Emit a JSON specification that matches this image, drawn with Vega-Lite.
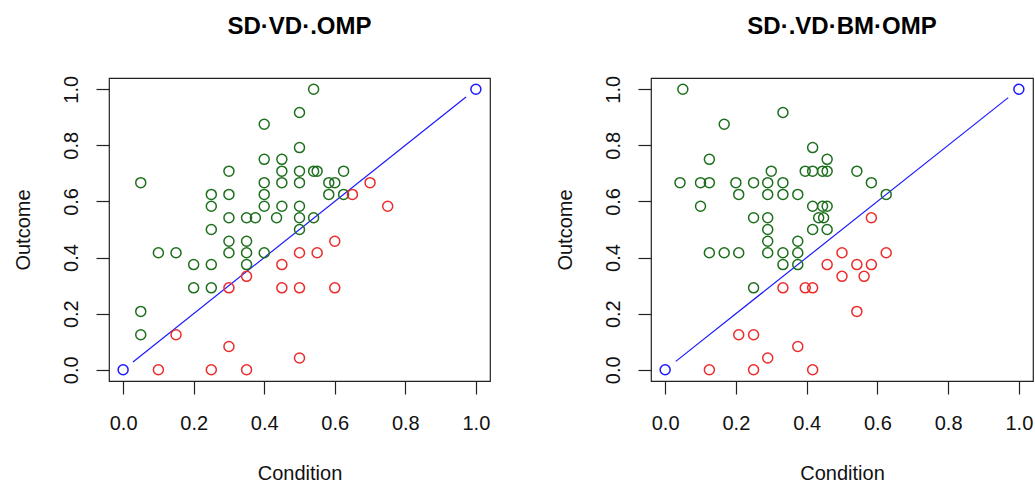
{
  "$schema": "https://vega.github.io/schema/vega-lite/v6.json",
  "padding": {"left": 12, "top": 14, "right": 0, "bottom": 0},
  "background": "white",
  "spacing": 161,
  "bounds": "flush",
  "config": {
    "font": "Liberation Sans",
    "view": {"stroke": "#222", "strokeWidth": 1.2},
    "axis": {
      "grid": false,
      "domain": false,
      "tickSize": 13,
      "tickColor": "#222",
      "tickWidth": 1.2,
      "labelFont": "Liberation Sans",
      "labelFontSize": 20,
      "labelColor": "#111",
      "titleFont": "Liberation Sans",
      "titleFontSize": 20,
      "titleFontWeight": "normal",
      "titleColor": "#111",
      "format": ".1f"
    },
    "axisX": {"labelPadding": 19, "titlePadding": 30, "labelFlush": false, "labelOverlap": false},
    "axisY": {"labelPadding": 15, "labelAngle": 270, "labelAlign": "center", "labelBaseline": "bottom", "titlePadding": 28, "labelOverlap": false, "labelFlush": false},
    "title": {"fontSize": 24, "fontWeight": "bold", "font": "Liberation Sans", "color": "#000", "offset": 36, "anchor": "middle"}
  },
  "datasets": {
    "lines": [
      {"p": "L", "x": 0.028, "y": 0.028},
      {"p": "L", "x": 0.972, "y": 0.972},
      {"p": "R", "x": 0.03, "y": 0.03},
      {"p": "R", "x": 0.97, "y": 0.97}
    ],
    "pts": [
      {"p": "L", "x": 0, "y": 0, "g": "blue"},
      {"p": "L", "x": 1, "y": 1, "g": "blue"},
      {"p": "L", "x": 0.05, "y": 0.667, "g": "green"},
      {"p": "L", "x": 0.05, "y": 0.208, "g": "green"},
      {"p": "L", "x": 0.05, "y": 0.125, "g": "green"},
      {"p": "L", "x": 0.1, "y": 0.417, "g": "green"},
      {"p": "L", "x": 0.15, "y": 0.417, "g": "green"},
      {"p": "L", "x": 0.2, "y": 0.375, "g": "green"},
      {"p": "L", "x": 0.2, "y": 0.292, "g": "green"},
      {"p": "L", "x": 0.25, "y": 0.625, "g": "green"},
      {"p": "L", "x": 0.25, "y": 0.583, "g": "green"},
      {"p": "L", "x": 0.25, "y": 0.5, "g": "green"},
      {"p": "L", "x": 0.25, "y": 0.375, "g": "green"},
      {"p": "L", "x": 0.25, "y": 0.292, "g": "green"},
      {"p": "L", "x": 0.3, "y": 0.708, "g": "green"},
      {"p": "L", "x": 0.3, "y": 0.625, "g": "green"},
      {"p": "L", "x": 0.3, "y": 0.542, "g": "green"},
      {"p": "L", "x": 0.3, "y": 0.458, "g": "green"},
      {"p": "L", "x": 0.3, "y": 0.417, "g": "green"},
      {"p": "L", "x": 0.35, "y": 0.542, "g": "green"},
      {"p": "L", "x": 0.35, "y": 0.458, "g": "green"},
      {"p": "L", "x": 0.35, "y": 0.417, "g": "green"},
      {"p": "L", "x": 0.35, "y": 0.375, "g": "green"},
      {"p": "L", "x": 0.375, "y": 0.542, "g": "green"},
      {"p": "L", "x": 0.4, "y": 0.875, "g": "green"},
      {"p": "L", "x": 0.4, "y": 0.75, "g": "green"},
      {"p": "L", "x": 0.4, "y": 0.667, "g": "green"},
      {"p": "L", "x": 0.4, "y": 0.625, "g": "green"},
      {"p": "L", "x": 0.4, "y": 0.583, "g": "green"},
      {"p": "L", "x": 0.4, "y": 0.417, "g": "green"},
      {"p": "L", "x": 0.435, "y": 0.542, "g": "green"},
      {"p": "L", "x": 0.45, "y": 0.75, "g": "green"},
      {"p": "L", "x": 0.45, "y": 0.708, "g": "green"},
      {"p": "L", "x": 0.45, "y": 0.667, "g": "green"},
      {"p": "L", "x": 0.45, "y": 0.583, "g": "green"},
      {"p": "L", "x": 0.5, "y": 0.917, "g": "green"},
      {"p": "L", "x": 0.5, "y": 0.792, "g": "green"},
      {"p": "L", "x": 0.5, "y": 0.708, "g": "green"},
      {"p": "L", "x": 0.5, "y": 0.667, "g": "green"},
      {"p": "L", "x": 0.5, "y": 0.583, "g": "green"},
      {"p": "L", "x": 0.5, "y": 0.542, "g": "green"},
      {"p": "L", "x": 0.5, "y": 0.5, "g": "green"},
      {"p": "L", "x": 0.54, "y": 1.0, "g": "green"},
      {"p": "L", "x": 0.54, "y": 0.708, "g": "green"},
      {"p": "L", "x": 0.55, "y": 0.708, "g": "green"},
      {"p": "L", "x": 0.54, "y": 0.542, "g": "green"},
      {"p": "L", "x": 0.583, "y": 0.667, "g": "green"},
      {"p": "L", "x": 0.6, "y": 0.667, "g": "green"},
      {"p": "L", "x": 0.583, "y": 0.625, "g": "green"},
      {"p": "L", "x": 0.625, "y": 0.625, "g": "green"},
      {"p": "L", "x": 0.625, "y": 0.708, "g": "green"},
      {"p": "L", "x": 0.1, "y": 0, "g": "red"},
      {"p": "L", "x": 0.15, "y": 0.125, "g": "red"},
      {"p": "L", "x": 0.25, "y": 0, "g": "red"},
      {"p": "L", "x": 0.3, "y": 0.292, "g": "red"},
      {"p": "L", "x": 0.3, "y": 0.083, "g": "red"},
      {"p": "L", "x": 0.35, "y": 0.333, "g": "red"},
      {"p": "L", "x": 0.35, "y": 0, "g": "red"},
      {"p": "L", "x": 0.45, "y": 0.375, "g": "red"},
      {"p": "L", "x": 0.45, "y": 0.292, "g": "red"},
      {"p": "L", "x": 0.5, "y": 0.417, "g": "red"},
      {"p": "L", "x": 0.5, "y": 0.292, "g": "red"},
      {"p": "L", "x": 0.5, "y": 0.042, "g": "red"},
      {"p": "L", "x": 0.55, "y": 0.417, "g": "red"},
      {"p": "L", "x": 0.6, "y": 0.458, "g": "red"},
      {"p": "L", "x": 0.6, "y": 0.292, "g": "red"},
      {"p": "L", "x": 0.65, "y": 0.625, "g": "red"},
      {"p": "L", "x": 0.7, "y": 0.667, "g": "red"},
      {"p": "L", "x": 0.75, "y": 0.583, "g": "red"},
      {"p": "R", "x": 0, "y": 0, "g": "blue"},
      {"p": "R", "x": 1, "y": 1, "g": "blue"},
      {"p": "R", "x": 0.05, "y": 1.0, "g": "green"},
      {"p": "R", "x": 0.042, "y": 0.667, "g": "green"},
      {"p": "R", "x": 0.1, "y": 0.667, "g": "green"},
      {"p": "R", "x": 0.125, "y": 0.667, "g": "green"},
      {"p": "R", "x": 0.2, "y": 0.667, "g": "green"},
      {"p": "R", "x": 0.25, "y": 0.667, "g": "green"},
      {"p": "R", "x": 0.29, "y": 0.667, "g": "green"},
      {"p": "R", "x": 0.333, "y": 0.667, "g": "green"},
      {"p": "R", "x": 0.333, "y": 0.917, "g": "green"},
      {"p": "R", "x": 0.167, "y": 0.875, "g": "green"},
      {"p": "R", "x": 0.417, "y": 0.792, "g": "green"},
      {"p": "R", "x": 0.125, "y": 0.75, "g": "green"},
      {"p": "R", "x": 0.458, "y": 0.75, "g": "green"},
      {"p": "R", "x": 0.3, "y": 0.708, "g": "green"},
      {"p": "R", "x": 0.396, "y": 0.708, "g": "green"},
      {"p": "R", "x": 0.417, "y": 0.708, "g": "green"},
      {"p": "R", "x": 0.445, "y": 0.708, "g": "green"},
      {"p": "R", "x": 0.458, "y": 0.708, "g": "green"},
      {"p": "R", "x": 0.542, "y": 0.708, "g": "green"},
      {"p": "R", "x": 0.583, "y": 0.667, "g": "green"},
      {"p": "R", "x": 0.208, "y": 0.625, "g": "green"},
      {"p": "R", "x": 0.29, "y": 0.625, "g": "green"},
      {"p": "R", "x": 0.333, "y": 0.625, "g": "green"},
      {"p": "R", "x": 0.375, "y": 0.625, "g": "green"},
      {"p": "R", "x": 0.625, "y": 0.625, "g": "green"},
      {"p": "R", "x": 0.1, "y": 0.583, "g": "green"},
      {"p": "R", "x": 0.417, "y": 0.583, "g": "green"},
      {"p": "R", "x": 0.445, "y": 0.583, "g": "green"},
      {"p": "R", "x": 0.458, "y": 0.583, "g": "green"},
      {"p": "R", "x": 0.25, "y": 0.542, "g": "green"},
      {"p": "R", "x": 0.29, "y": 0.542, "g": "green"},
      {"p": "R", "x": 0.434, "y": 0.542, "g": "green"},
      {"p": "R", "x": 0.448, "y": 0.542, "g": "green"},
      {"p": "R", "x": 0.29, "y": 0.5, "g": "green"},
      {"p": "R", "x": 0.417, "y": 0.5, "g": "green"},
      {"p": "R", "x": 0.458, "y": 0.5, "g": "green"},
      {"p": "R", "x": 0.29, "y": 0.458, "g": "green"},
      {"p": "R", "x": 0.375, "y": 0.458, "g": "green"},
      {"p": "R", "x": 0.125, "y": 0.417, "g": "green"},
      {"p": "R", "x": 0.167, "y": 0.417, "g": "green"},
      {"p": "R", "x": 0.208, "y": 0.417, "g": "green"},
      {"p": "R", "x": 0.29, "y": 0.417, "g": "green"},
      {"p": "R", "x": 0.333, "y": 0.417, "g": "green"},
      {"p": "R", "x": 0.375, "y": 0.417, "g": "green"},
      {"p": "R", "x": 0.333, "y": 0.375, "g": "green"},
      {"p": "R", "x": 0.375, "y": 0.375, "g": "green"},
      {"p": "R", "x": 0.25, "y": 0.292, "g": "green"},
      {"p": "R", "x": 0.125, "y": 0, "g": "red"},
      {"p": "R", "x": 0.25, "y": 0, "g": "red"},
      {"p": "R", "x": 0.417, "y": 0, "g": "red"},
      {"p": "R", "x": 0.29, "y": 0.042, "g": "red"},
      {"p": "R", "x": 0.375, "y": 0.083, "g": "red"},
      {"p": "R", "x": 0.208, "y": 0.125, "g": "red"},
      {"p": "R", "x": 0.25, "y": 0.125, "g": "red"},
      {"p": "R", "x": 0.542, "y": 0.208, "g": "red"},
      {"p": "R", "x": 0.333, "y": 0.292, "g": "red"},
      {"p": "R", "x": 0.396, "y": 0.292, "g": "red"},
      {"p": "R", "x": 0.417, "y": 0.292, "g": "red"},
      {"p": "R", "x": 0.5, "y": 0.333, "g": "red"},
      {"p": "R", "x": 0.5625, "y": 0.333, "g": "red"},
      {"p": "R", "x": 0.458, "y": 0.375, "g": "red"},
      {"p": "R", "x": 0.542, "y": 0.375, "g": "red"},
      {"p": "R", "x": 0.583, "y": 0.375, "g": "red"},
      {"p": "R", "x": 0.5, "y": 0.417, "g": "red"},
      {"p": "R", "x": 0.625, "y": 0.417, "g": "red"},
      {"p": "R", "x": 0.583, "y": 0.542, "g": "red"}
    ]
  },
  "hconcat": [
    {
      "width": 381,
      "height": 303,
      "title": "SD·VD·.OMP",
      "layer": [
        {
          "data": {"name": "lines"},
          "transform": [{"filter": "datum.p === 'L'"}],
          "mark": {"type": "line", "color": "#1a1aff", "strokeWidth": 1.2},
          "encoding": {
            "x": {"field": "x", "type": "quantitative", "title": "Condition", "scale": {"domain": [-0.04, 1.04], "nice": false, "zero": false}, "axis": {"values": [0, 0.2, 0.4, 0.6, 0.8, 1.0]}},
            "y": {"field": "y", "type": "quantitative", "title": "Outcome", "scale": {"domain": [-0.04, 1.04], "nice": false, "zero": false}, "axis": {"values": [0, 0.2, 0.4, 0.6, 0.8, 1.0]}}
          }
        },
        {
          "data": {"name": "pts"},
          "transform": [{"filter": "datum.p === 'L'"}],
          "mark": {"type": "point", "shape": "circle", "filled": false, "size": 100, "strokeWidth": 1.5, "opacity": 1},
          "encoding": {
            "x": {"field": "x", "type": "quantitative", "title": "Condition", "scale": {"domain": [-0.04, 1.04], "nice": false, "zero": false}, "axis": {"values": [0, 0.2, 0.4, 0.6, 0.8, 1.0]}},
            "y": {"field": "y", "type": "quantitative", "title": "Outcome", "scale": {"domain": [-0.04, 1.04], "nice": false, "zero": false}, "axis": {"values": [0, 0.2, 0.4, 0.6, 0.8, 1.0]}},
            "color": {"field": "g", "type": "nominal", "scale": {"domain": ["green", "red", "blue"], "range": ["#1d6f1d", "#ec2b2b", "#1a1aff"]}, "legend": null}
          }
        }
      ]
    },
    {
      "width": 382,
      "height": 303,
      "title": "SD·.VD·BM·OMP",
      "layer": [
        {
          "data": {"name": "lines"},
          "transform": [{"filter": "datum.p === 'R'"}],
          "mark": {"type": "line", "color": "#1a1aff", "strokeWidth": 1.2},
          "encoding": {
            "x": {"field": "x", "type": "quantitative", "title": "Condition", "scale": {"domain": [-0.04, 1.04], "nice": false, "zero": false}, "axis": {"values": [0, 0.2, 0.4, 0.6, 0.8, 1.0]}},
            "y": {"field": "y", "type": "quantitative", "title": "Outcome", "scale": {"domain": [-0.04, 1.04], "nice": false, "zero": false}, "axis": {"values": [0, 0.2, 0.4, 0.6, 0.8, 1.0]}}
          }
        },
        {
          "data": {"name": "pts"},
          "transform": [{"filter": "datum.p === 'R'"}],
          "mark": {"type": "point", "shape": "circle", "filled": false, "size": 100, "strokeWidth": 1.5, "opacity": 1},
          "encoding": {
            "x": {"field": "x", "type": "quantitative", "title": "Condition", "scale": {"domain": [-0.04, 1.04], "nice": false, "zero": false}, "axis": {"values": [0, 0.2, 0.4, 0.6, 0.8, 1.0]}},
            "y": {"field": "y", "type": "quantitative", "title": "Outcome", "scale": {"domain": [-0.04, 1.04], "nice": false, "zero": false}, "axis": {"values": [0, 0.2, 0.4, 0.6, 0.8, 1.0]}},
            "color": {"field": "g", "type": "nominal", "scale": {"domain": ["green", "red", "blue"], "range": ["#1d6f1d", "#ec2b2b", "#1a1aff"]}, "legend": null}
          }
        }
      ]
    }
  ]
}
